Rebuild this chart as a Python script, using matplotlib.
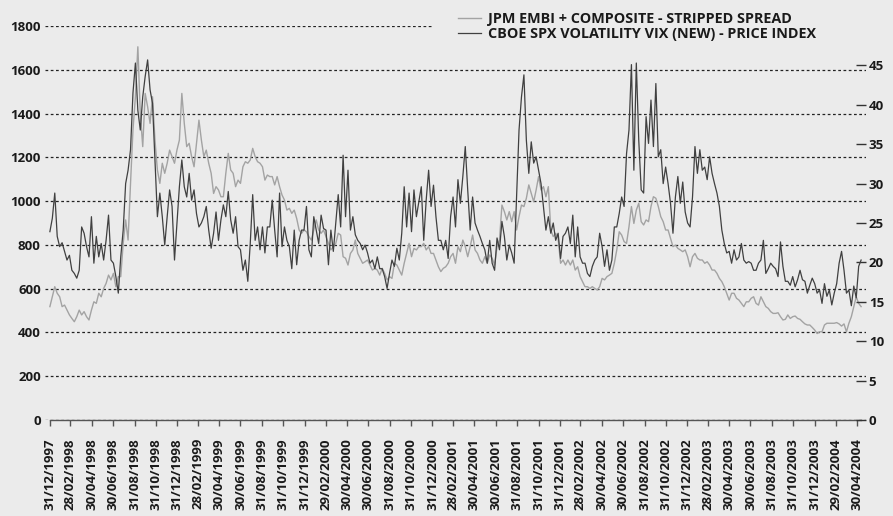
import numpy as np
import pandas as pd
import matplotlib
matplotlib.use("Agg")
import matplotlib.pyplot as plt
import matplotlib.dates as mdates
from matplotlib.patches import Rectangle

plt.rcParams['font.family'] = ['Open Sans', 'DejaVu Sans']
plt.rcParams['font.weight'] = 'bold'

# weekly readings, starting 31/12/1997
embi = [
    518, 563, 609, 579, 563, 518, 525, 502, 480, 464,
    449, 472, 502, 480, 495, 472, 457, 502, 540, 533,
    579, 563, 601, 624, 662, 640, 670, 609, 655, 655,
    807, 914, 822, 1081, 1325, 1477, 1705, 1401, 1249, 1492,
    1431, 1355, 1477, 1279, 1142, 1081, 1173, 1127, 1173, 1233,
    1203, 1173, 1233, 1279, 1492, 1355,
    1249, 1264, 1203, 1157, 1264, 1370, 1279, 1203, 1233, 1173,
    1127, 1035, 1066, 1051, 1020, 1020, 1127, 1218, 1142, 1127,
    1066, 1096, 1081, 1157, 1180, 1173, 1188, 1241, 1203, 1180,
    1173, 1157, 1096, 1119, 1112, 1112, 1074, 1112, 1066, 1028,
    1005, 959, 967, 944, 959, 921, 868, 853, 868, 860,
    838, 822, 868, 914, 868,
    853, 868, 838, 807, 777, 792, 807, 853, 845, 746,
    739, 708, 761, 777, 822, 761, 739, 716, 723, 731,
    708, 685, 693, 685, 662, 693, 670, 640, 655, 647,
    716, 708, 685, 662, 716, 761, 807, 746, 784, 777,
    792, 792, 807, 777, 792, 761, 761, 731, 700, 678,
    693, 700, 716, 746, 761, 716,
    792, 769, 822, 792, 746, 792, 845, 777, 761, 731,
    716, 746, 716, 754, 739, 708, 792, 822, 982, 952,
    914, 952, 906, 952, 868, 929, 982, 975, 1013, 1074,
    1035, 997, 1051, 1112, 1051, 1066, 1020, 1066, 868, 838,
    853, 830, 716, 731, 708, 731, 708, 731, 685, 700,
    655, 632, 609, 609, 601,
    609, 601, 594, 609, 647, 640, 655, 662, 670, 716,
    777, 860, 845, 815, 807, 883, 975, 898, 959, 990,
    906, 891, 914, 906, 975, 1020, 1013, 975, 929, 906,
    868, 868, 830, 792, 799, 784, 777, 769, 777, 746,
    700, 746, 761, 739, 731, 731, 716, 723, 708, 685,
    685, 670, 647, 632, 609,
    579, 548, 579, 579, 556, 548, 533, 518, 540, 540,
    556, 563, 533, 525, 563, 540, 518, 510, 495, 487,
    487, 490, 472, 457, 460, 480, 464, 472, 475, 464,
    460, 449, 439, 434, 434, 423, 411, 395, 403, 403,
    434, 442, 442, 442, 442, 445, 439, 429, 439, 403,
    442, 472, 518, 563, 533, 518,
]

vix = [
    23.9, 25.6, 28.8, 23.3, 22.0, 22.5, 21.4, 20.3, 20.9, 19.0,
    18.6, 18.0, 19.0, 24.5, 23.7, 22.0, 20.7, 25.8, 19.9, 23.3,
    20.7, 22.4, 20.3, 22.8, 26.0, 20.3, 19.9, 18.2, 16.1, 20.7,
    24.1, 30.0, 31.7, 34.3, 41.5, 45.3, 39.3, 36.8, 41.0, 43.6,
    45.7, 41.9, 40.2, 33.0, 25.8, 28.8, 25.8, 22.2, 25.8, 29.2,
    27.1, 20.3, 25.0, 29.6, 33.0, 29.6,
    28.3, 31.3, 27.9, 29.2, 26.2, 24.5, 25.0, 25.8, 27.1, 24.1,
    21.8, 23.7, 26.4, 22.8, 25.4, 27.3, 25.8, 29.0, 25.4, 23.7,
    25.8, 22.0, 21.6, 19.0, 20.3, 17.6, 22.4, 28.6, 22.8, 24.5,
    21.6, 24.5, 21.2, 24.5, 24.5, 27.9, 24.1, 20.7, 28.8, 22.0,
    24.5, 22.8, 22.0, 19.2, 24.1, 19.7, 22.8, 24.1, 24.1, 27.1,
    21.6, 20.7, 25.8, 24.1, 22.4,
    26.0, 24.3, 24.1, 19.7, 24.1, 21.4, 25.0, 28.6, 24.5, 33.6,
    25.8, 31.7, 24.1, 25.8, 23.5, 22.8, 22.4, 21.6, 22.2, 21.2,
    19.9, 20.3, 19.2, 20.7, 19.2, 19.2, 18.2, 16.7, 18.6, 20.3,
    19.5, 21.8, 20.3, 23.7, 29.6, 24.5, 28.8, 23.9, 29.2, 25.8,
    27.7, 29.6, 22.8, 27.9, 31.7, 27.1, 29.8, 25.8, 22.8, 22.8,
    21.6, 22.8, 20.5, 25.8, 28.3, 24.5,
    30.5, 27.5, 30.9, 34.7, 29.2, 24.1, 28.3, 25.0, 24.1, 23.3,
    22.4, 21.6, 19.9, 22.8, 19.9, 19.0, 23.1, 21.6, 25.2, 23.3,
    20.3, 22.2, 21.2, 19.9, 28.3, 36.8, 41.0, 43.8, 35.5, 31.3,
    35.3, 32.6, 33.4, 31.7, 30.0, 27.1, 24.1, 25.8, 23.7, 25.0,
    22.8, 23.7, 20.5, 23.3, 23.7, 24.5, 22.4, 26.0, 20.7, 24.5,
    20.7, 19.9, 19.9, 18.6, 18.2,
    19.5, 20.3, 20.7, 23.7, 22.0, 19.5, 21.6, 19.0, 20.3, 24.5,
    24.5, 26.2, 28.3, 27.1, 33.8, 36.8, 45.1, 31.7, 45.3, 35.5,
    29.2, 28.8, 38.5, 35.1, 40.6, 34.7, 42.7, 33.4, 34.3, 30.0,
    32.1, 30.0, 27.5, 23.7, 28.3, 30.9, 27.5, 30.2, 26.4, 25.0,
    24.5, 28.3, 34.7, 31.3, 34.3, 31.7, 32.1, 30.5, 33.4, 31.3,
    30.0, 28.8, 27.1, 24.1, 22.4,
    21.2, 21.4, 19.9, 21.6, 20.3, 20.7, 22.4, 20.3, 19.9, 20.1,
    19.9, 19.0, 19.0, 19.9, 20.3, 22.8, 18.6, 19.2, 19.9, 19.5,
    19.2, 18.2, 22.6, 19.5, 17.6, 17.6, 17.1, 18.2, 16.9, 17.8,
    19.0, 17.8, 17.6, 16.1, 17.1, 18.0, 17.3, 16.1, 16.5, 14.8,
    17.3, 15.7, 16.5, 14.6, 16.1, 17.3, 19.9, 21.4, 19.0, 16.1,
    16.5, 14.5, 17.0, 15.5, 19.5, 20.3,
]

label_embi = "JPM EMBI + COMPOSITE - STRIPPED SPREAD"
label_vix = "CBOE SPX VOLATILITY VIX (NEW) - PRICE INDEX"

dates = pd.date_range("1997-12-31", periods=len(embi), freq="7D")
try:
    tick_dates = pd.date_range("1997-12-31", "2004-04-30", freq="2ME")
except ValueError:
    tick_dates = pd.date_range("1997-12-31", "2004-04-30", freq="2M")

bg = "#ebebeb"
txt = "#1a1a1a"

fig = plt.figure(figsize=(8.93, 5.16), dpi=100, facecolor=bg)
ax = fig.add_axes([45 / 893, 1 - 420 / 516, 821 / 893, 394 / 516])
ax.set_facecolor(bg)
ax2 = ax.twinx()

l1, = ax.plot(dates, embi, color="#a3a3a3", lw=1.0, zorder=3)
l2, = ax2.plot(dates, vix, color="#404040", lw=0.9, zorder=3)

pad = pd.Timedelta(days=14)
ax.set_xlim(dates[0] - pad, dates[-1] + pad)
ax.set_ylim(0, 1800)
ax2.set_ylim(0, 50)

ax.set_yticks(range(0, 1801, 200))
ax2.set_yticks(range(0, 51, 5))
ax.yaxis.grid(True, color="#222222", lw=0.9, linestyle=(0, (2.2, 2.0)))
ax.set_axisbelow(True)

for a in (ax, ax2):
    for s in ("left", "right", "top"):
        a.spines[s].set_visible(False)
ax2.spines["bottom"].set_visible(False)
ax.spines["bottom"].set_color("#555555")
ax.spines["bottom"].set_linewidth(1.0)
ax.spines["bottom"].set_bounds(mdates.date2num(dates[0]), mdates.date2num(dates[-1]))

ax.set_xticks(tick_dates)
ax.set_xticklabels([d.strftime("%d/%m/%Y") for d in tick_dates], rotation=90,
                   fontsize=9.5, fontweight="bold", color=txt)
ax.tick_params(axis="x", length=4, width=1, color="#555555", pad=9)
ax.tick_params(axis="y", length=0, pad=3, labelsize=9.5, labelcolor=txt)
ax2.tick_params(axis="y", direction="in", length=7, width=1, color="#333333",
                pad=2, labelsize=9.5, labelcolor=txt)
for t in ax.get_yticklabels() + ax2.get_yticklabels():
    t.set_fontweight("bold")

# cover the top gridline behind the legend
ax2.add_patch(Rectangle((387 / 821, 0.965), 0.6, 0.1, transform=ax2.transAxes,
                        facecolor=bg, edgecolor="none", clip_on=False, zorder=5))

leg = ax2.legend([l1, l2], [label_embi, label_vix], loc="upper left",
                 bbox_to_anchor=(448 / 893, 1 - 2 / 516), bbox_transform=fig.transFigure,
                 frameon=False, fontsize=10.4, handlelength=1.6, handletextpad=0.45,
                 labelspacing=0.05, borderpad=0.2)
leg.set_zorder(6)
for t in leg.get_texts():
    t.set_fontweight("bold")
    t.set_color(txt)

fig.savefig("out.png", dpi=100, facecolor=bg)
